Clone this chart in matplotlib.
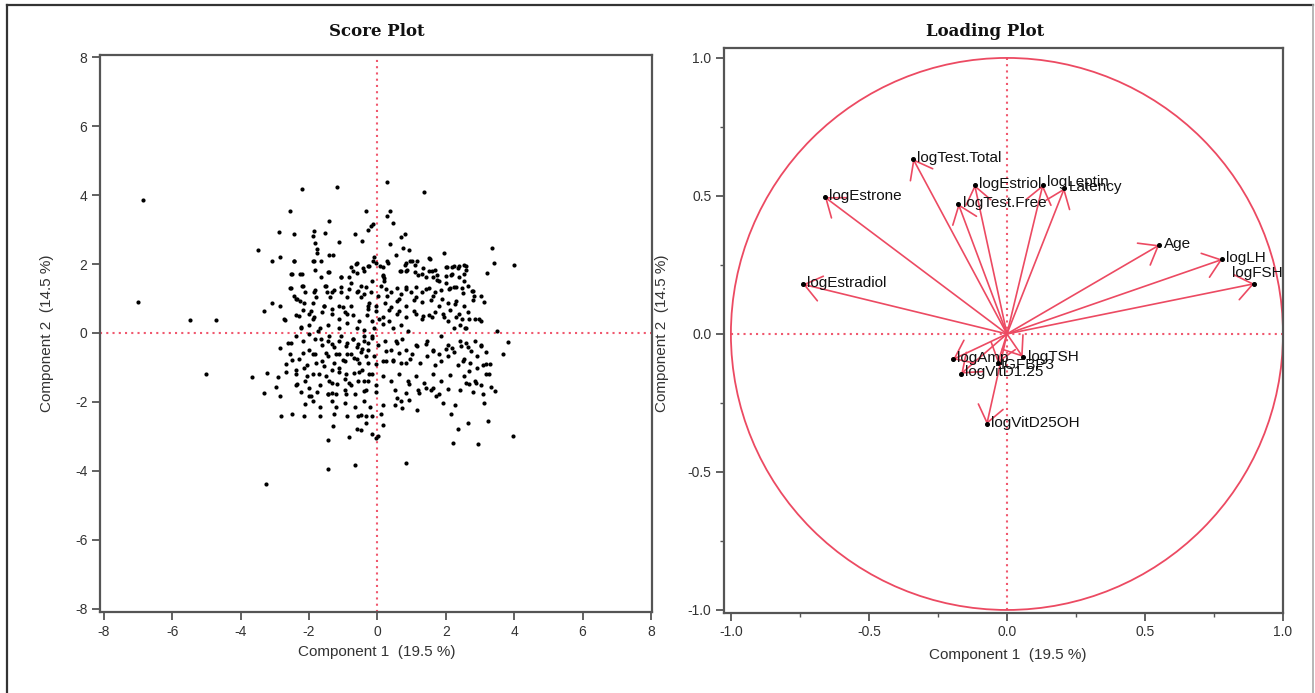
import matplotlib
matplotlib.use("Agg")
import matplotlib.pyplot as plt
from matplotlib.patches import Circle
from matplotlib.lines import Line2D
from matplotlib.ticker import MultipleLocator, FormatStrFormatter

# ---------------- data ----------------
titles = ["Score Plot", "Loading Plot"]
xlabel_txt = "Component 1  (19.5 %)"
ylabel_txt = "Component 2  (14.5 %)"
score_ticks = [-8, -6, -4, -2, 0, 2, 4, 6, 8]
loading_ticks = [-1.0, -0.5, 0.0, 0.5, 1.0]

# score points, read region by region
out_pc1 = [-6.85, -7.0, -5.47, -4.72, -5.02, -3.68, -3.25, -1.45, -0.67, 0.82, 3.95, 3.99, 1.35, 0.28, -1.19,
           -2.21, 3.35, 3.42, 2.93, 2.2, -1.45, -2.55, -3.5, -3.31, -3.33]
out_pc2 = [3.85, 0.9, 0.38, 0.38, -1.2, -1.27, -4.38, -3.95, -3.83, -3.76, -2.99, 1.97, 4.08, 4.38, 4.22,
           4.18, 2.45, 2.04, -3.23, -3.19, -3.09, 3.55, 2.42, 0.64, -1.74]

top_pc1 = [-0.33, 0.37, 0.27, 0.45, -0.2, -0.12, -1.42, -2.87, -2.45, -1.85, -1.53, -1.9, -0.44, -1.12, -0.66,
           0.8, 0.7, -1.82, -1.78, -1.76, -1.31, 0.37, 0.76, 0.92, 0.53, -0.11, -0.13, -0.28]
top_pc2 = [3.53, 3.53, 3.38, 3.19, 3.09, 3.17, 3.24, 2.94, 2.86, 2.95, 2.91, 2.81, 2.68, 2.65, 2.86,
           2.88, 2.78, 2.6, 2.44, 2.33, 2.27, 2.58, 2.46, 2.4, 2.27, 2.2, 2.08, 3.0]

upper_pc1 = [-3.09, -2.85, -2.45, -1.9, -1.41, -2.54, -2.27, -1.84, -1.44, -1.08, -0.63, -0.43, -0.71, -0.82,
             -0.28, 0.06, 0.15, 0.18, 0.09, 0.28, 0.8, 0.94, 1.1, 0.86, 0.67, 1.5, 1.96, 1.34, 1.58, 1.74,
             2.02, 2.23, 2.53, 2.36, 2.15, 2.53, 1.19, 1.42, 1.73]
upper_pc2 = [2.08, 2.2, 2.08, 2.1, 2.27, 1.72, 1.72, 1.82, 1.78, 1.63, 2.01, 1.88, 1.79, 1.63,
             1.95, 1.95, 1.69, 1.59, 1.37, 2.08, 1.97, 2.08, 1.97, 1.82, 1.79, 2.17, 2.31, 1.88, 1.79, 1.69,
             1.92, 1.95, 1.97, 1.88, 1.69, 1.72, 1.69, 1.63, 1.54]

upper2_pc1 = [-2.44, -1.87, -1.66, -0.6, -0.24, -0.05, 0.15, 0.32, 0.83, 1.02, 1.17, 1.53, 2.0, 2.19, 2.39,
              2.58, 2.6, 3.2, -2.51, -2.21, -1.66, -1.41, -1.07, -0.78, -0.6, -0.39, -0.15, 0.15, 0.19, 0.24,
              0.68, 0.83, 1.1, 1.3, 1.51, 1.68, 1.61, 1.8, 2.0, 2.19, 2.39, 2.53]
upper2_pc2 = [2.09, 2.09, 2.09, 2.04, 1.95, 2.04, 1.9, 2.04, 2.04, 2.09, 2.09, 2.14, 1.9, 1.9, 1.93,
              1.95, 1.82, 1.75, 1.72, 1.72, 1.63, 1.78, 1.61, 1.9, 1.75, 1.8, 1.51, 1.66, 1.51, 1.27,
              1.8, 1.8, 1.77, 1.72, 1.8, 1.83, 1.61, 1.51, 1.66, 1.7, 1.63, 1.51]

mid_pc1 = [-2.56, -2.21, -2.45, -2.39, -2.28, -2.12, -1.82, -1.79, -1.53, -1.48, -1.26, -1.08, -1.88, -1.57,
           -1.39, -1.14, -0.77, -0.9, -0.59, -0.77, -0.47, -0.4, -0.18, 0.02, -0.28, -0.04, 0.21, 0.39, 0.58,
           0.7, 0.82, 0.97, 1.13, 1.31, 1.5, 1.68, 1.87, 1.99, 2.11, 2.3, 2.48, 2.66, 2.76, 3.03, 3.13,
           2.79, 2.53, 2.3, 2.05, 1.8, 1.56, 1.31, 1.07, 0.82, 0.58, 0.33, 0.58, 0.82, 1.13, 1.31,
           1.5, 1.68, 1.93, 2.11, 2.3, 2.48, 2.66, 2.85, 3.03, 2.23, 2.42, 2.6, 2.05]
mid_pc2 = [1.31, 1.37, 1.08, 0.99, 0.92, 1.18, 1.24, 1.03, 1.37, 1.18, 1.24, 1.18, 0.86, 0.79,
           1.05, 0.79, 0.79, 1.05, 1.18, 1.44, 1.37, 1.12, 1.18, 1.08, 0.79, 0.79, 0.86, 1.18, 1.31,
           1.12, 1.33, 1.18, 1.33, 1.18, 1.31, 1.18, 1.24, 1.44, 1.31, 1.33, 1.31, 1.37, 1.21, 1.08, 0.9,
           0.95, 0.79, 0.92, 0.86, 0.79, 0.95, 0.9, 0.95, 0.79, 0.92, 0.67, 0.54, 0.47, 0.54, 0.41,
           0.51, 0.6, 0.54, 0.67, 0.47, 0.41, 0.6, 0.41, 0.35, 0.15, 0.22, 0.15, 0.35]

mid2_pc1 = [-2.54, -2.19, -2.34, -2.14, -1.85, -1.51, -1.32, -1.07, -0.83, -0.58, -0.34, -0.49, -0.24, 0.29,
            0.63, 0.83, 1.12, 1.41, 1.61, 1.9, 2.1, 2.24, 2.49, 2.78, 2.83, -2.7, -2.31, -1.95, -1.85,
            -1.56, -1.32, -1.02, -0.88, -0.29, -0.03, 0.05, 0.39, 0.63, 1.07, 1.32, 1.59, 1.95, 2.27, 2.39,
            2.68, 2.97, 2.55]
mid2_pc2 = [1.3, 1.37, 0.98, 0.88, 1.2, 1.37, 1.2, 1.32, 1.27, 1.22, 1.32, 1.03, 0.88, 1.08,
            0.98, 1.27, 1.03, 1.27, 1.08, 0.98, 1.27, 1.32, 1.17, 1.22, 1.08, 0.37, 0.49, 0.64, 0.45,
            0.78, 0.69, 0.74, 0.54, 0.69, 0.64, 0.4, 0.74, 0.64, 0.64, 0.49, 0.45, 0.45, 0.83, 0.54,
            0.4, 0.4, 0.15]

left_pc1 = [-3.1, -2.85, -2.74, -2.37, -2.18, -2.0, -1.88, -1.63, -1.33, -1.14, -0.96, -0.71, -0.53, -0.31,
            -0.16, 0.15, 0.15, 0.33, -2.25, -2.0, -1.69, -1.45, -1.14, -0.9, -0.59, -0.4, -0.1, 0.45, 0.7,
            0.88]
left_pc2 = [0.86, 0.79, 0.41, 0.51, 0.67, 0.54, 0.41, 0.6, 0.54, 0.41, 0.6, 0.51, 0.35, 0.51,
            0.35, 0.47, 0.26, 0.35, 0.18, 0.22, 0.15, 0.22, 0.13, 0.28, 0.15, 0.09, 0.15, 0.13, 0.22,
            0.05]

low_pc1 = [-2.61, -2.37, -2.18, -2.0, -1.82, -1.63, -1.45, -1.26, -1.08, -0.9, -0.71, -0.59, -0.4, -0.28,
           -0.16, 0.02, 0.21, 0.39, 0.58, 0.82, 1.13, 1.44, 1.62, 1.87, 2.05, 2.23, 2.42, 2.66, 2.85, 3.03,
           3.16, 3.5, 3.83, 3.67, -2.55, -2.31, -2.06, -1.82, -1.63, -1.45, -1.26, -1.14, -0.96, -0.77,
           -0.59, -0.47, -0.28, -0.1, 0.15, 0.45, 0.7, 0.94, 1.25, 1.44, 1.68, 1.87, 2.05, 2.36, 2.53,
           2.72, 2.9, 3.09, 3.28, 3.16]
low_pc2 = [-0.29, -0.1, -0.23, -0.49, -0.17, -0.36, -0.23, -0.42, -0.1, -0.29, -0.17, -0.42, -0.23, -0.49,
           -0.1, -0.36, -0.23, -0.49, -0.29, -0.49, -0.36, -0.23, -0.49, -0.1, -0.36, -0.55, -0.23, -0.42,
           -0.23, -0.36, -0.55, 0.05, -0.27, -0.62, -0.62, -0.74, -0.94, -0.62, -0.81, -0.68, -0.87, -0.62,
           -0.81, -0.62, -0.74, -0.55, -0.87, -0.68, -0.81, -0.81, -0.87, -0.74, -0.87, -0.68, -0.94, -0.81,
           -0.68, -0.94, -0.74, -0.87, -0.68, -0.94, -0.9, -1.19]

core_pc1 = [-2.24, -2.0, -1.75, -1.66, -1.41, -1.32, -1.12, -0.93, -0.73, -0.58, -0.44, -0.29, -0.15, -0.39,
            -1.51, -1.22, -1.02, -0.88, -0.68, -0.54, -0.34, -1.9, -1.8, -1.56, -1.32, -1.12, -0.93, -0.68,
            -0.44, -0.24, -0.05, -2.14, -2.05, -1.7, -1.41, -1.17, -0.83, -0.58, -0.29, -1.32, -1.46, -2.0,
            -1.95, -0.93, -0.39, 0.24, 0.44, 0.63, 0.83, 1.02, 0.24, 0.54, 0.73, 1.17, 1.41, 1.61, 1.8,
            2.0, 2.19, 2.44, 2.58, 2.73, 3.02, 2.49, 2.68, 2.92, 3.17, 3.27, 2.87, 2.68, 1.61, 1.41, 1.71,
            1.22, 0.93, 0.58, 0.93, 0.73, -0.58, -0.34, -3.22, -2.34, -2.68, -2.49, -2.39, -2.85, -2.54,
            -2.19]
core_pc2 = [0.14, -0.02, 0.06, -0.18, -0.09, -0.33, -0.23, -0.38, -0.18, -0.33, -0.47, -0.28, -0.14, -0.09,
            -0.57, -0.62, -0.77, -0.62, -0.72, -0.86, -0.67, -0.62, -0.86, -0.96, -1.06, -1.01, -1.2, -1.15,
            -1.06, -1.2, -0.91, -1.01, -1.25, -1.2, -1.4, -1.49, -1.44, -1.4, -1.4, -1.74, -1.78, -1.59,
            -1.83, -1.78, -1.69, -0.52, -0.77, -0.57, -0.86, -0.62, -0.81, -0.23, -0.18, -0.38, -0.33, -0.52,
            -0.62, -0.47, -0.43, -0.38, -0.28, -0.52, -0.38, -0.81, -1.1, -1.01, -0.91, -1.2, -1.44, -1.49,
            -1.59, -1.59, -1.83, -1.74, -1.49, -1.88, -1.93, -2.17, -2.41, -2.41, -1.15, -1.47, -0.89, -0.77,
            -1.08, -0.43, -0.28, -0.57]

lower_pc1 = [-2.92, -2.67, -2.37, -2.12, -1.88, -1.69, -1.51, -1.33, -1.14, -0.96, -0.77, -0.53, -0.4, -0.16,
             -0.04, 0.15, 0.39, 0.64, 0.88, 1.13, 1.37, 1.62, 1.87, 2.11, 2.53, 2.6, 2.85, 3.03, 3.33, 3.45,
             3.09, 2.79, 2.42, 2.05, 1.8, 1.56, 1.19, 0.82, 0.52, -0.04, -0.34, -0.65, -0.96, -1.2, -1.45,
             -1.76, -2.0, -2.25, -2.98, -2.85, -2.37]
lower_pc2 = [-1.27, -1.13, -1.19, -1.38, -1.19, -1.51, -1.26, -1.45, -1.13, -1.32, -1.51, -1.13, -1.38, -1.19,
             -1.51, -1.26, -1.38, -1.19, -1.38, -1.26, -1.45, -1.19, -1.38, -1.23, -1.26, -1.45, -1.38, -1.51,
             -1.58, -1.67, -1.77, -1.71, -1.64, -1.62, -1.77, -1.64, -1.64, -1.74, -1.64, -1.71, -1.64, -1.77,
             -1.64, -1.77, -1.77, -1.71, -1.83, -1.71, -1.58, -1.83, -1.51]

bottom_pc1 = [-2.12, -1.88, -1.69, -1.33, -1.2, -0.96, -0.65, -0.4, -0.22, 0.15, 0.52, 0.7, 1.17, 1.93, 2.27,
              3.13, -2.83, -2.49, -2.16, -1.69, -1.26, -0.9, -0.47, -0.16, 0.09, 2.15, 3.22, -1.29, -0.59,
              -0.47, -0.34, 0.15, 2.36, 2.66, -0.83, -0.16, -0.04, 0.02]
bottom_pc2 = [-2.05, -1.96, -2.15, -1.96, -2.15, -2.03, -2.15, -1.96, -2.15, -2.09, -2.09, -1.96, -2.22, -2.03,
              -2.09, -2.03, -2.41, -2.35, -2.41, -2.41, -2.35, -2.41, -2.38, -2.41, -2.35, -2.35, -2.54, -2.69,
              -2.79, -2.82, -2.6, -2.67, -2.77, -2.6, -3.03, -2.92, -3.05, -2.99]

score_groups = [(out_pc1, out_pc2), (top_pc1, top_pc2), (upper_pc1, upper_pc2), (upper2_pc1, upper2_pc2),
                (mid_pc1, mid_pc2), (mid2_pc1, mid2_pc2), (left_pc1, left_pc2), (low_pc1, low_pc2),
                (core_pc1, core_pc2), (lower_pc1, lower_pc2), (bottom_pc1, bottom_pc2)]
score_pc1, score_pc2 = [], []
for gx, gy in score_groups:
    n = min(len(gx), len(gy))
    score_pc1 += gx[:n]
    score_pc2 += gy[:n]

# loading vectors
load_names = ["logTest.Total", "logEstrone", "logEstriol", "logTest.Free", "logLeptin", "Latency",
              "Age", "logLH", "logFSH", "logEstradiol", "logAmp", "logVitD1.25", "logVitD25OH",
              "logTSH", "IGFBP3"]
load_pc1 = [-0.34, -0.66, -0.117, -0.176, 0.13, 0.208, 0.552, 0.78, 0.896, -0.739, -0.195, -0.166,
            -0.073, 0.057, -0.033]
load_pc2 = [0.634, 0.496, 0.54, 0.471, 0.54, 0.528, 0.322, 0.27, 0.182, 0.18, -0.092, -0.144,
            -0.327, -0.083, -0.105]
# label offsets (points) - style only
label_off = {"logFSH": (-16, 8), "logLeptin": (3, 2), "IGFBP3": (2, -1.5), "logTSH": (3.5, 0)}

# ---------------- style ----------------
plt.rcParams['font.family'] = ['Liberation Sans', 'DejaVu Sans']
plt.rcParams['axes.unicode_minus'] = False
RED = '#ec4a62'
DOT = '#f0586e'
SPINE = '#555555'

W, H = 1315, 693
fig = plt.figure(figsize=(W / 100, H / 100), dpi=100)


def box(l, t, r, b):
    return [l / W, 1 - b / H, (r - l) / W, (b - t) / H]


def fx(px):
    return px / W


def fy(py):
    return 1 - py / H


def style_axes(ax):
    for s in ax.spines.values():
        s.set_color(SPINE)
        s.set_linewidth(1.6)
    ax.tick_params(which='major', direction='out', length=6, width=1.3, color=SPINE,
                   labelsize=10, labelcolor='#333333', pad=3)
    ax.tick_params(which='minor', direction='out', length=3, width=1.0, color=SPINE)


# ---- score plot ----
ax1 = fig.add_axes(box(100, 55, 652, 612))
ax1.set_xlim(-8.117, 8.03)
ax1.set_ylim(-8.09, 8.06)
ax1.set_xticks(score_ticks)
ax1.set_yticks(score_ticks)
ax1.set_xticklabels([str(t) for t in score_ticks])
ax1.set_yticklabels([str(t) for t in score_ticks])
style_axes(ax1)
ax1.axhline(0, color=DOT, lw=1.5, ls=(0, (1, 2)), zorder=1)
ax1.axvline(0, color=DOT, lw=1.5, ls=(0, (1, 2)), zorder=1)
ax1.scatter(score_pc1, score_pc2, s=9, c='black', marker='o', linewidths=0, zorder=3)

# ---- loading plot ----
ax2 = fig.add_axes(box(724, 48, 1283, 613))
ax2.set_xlim(-1.025, 1.0)
ax2.set_ylim(-1.011, 1.036)
ax2.set_xticks(loading_ticks)
ax2.set_yticks(loading_ticks)
ax2.xaxis.set_minor_locator(MultipleLocator(0.25))
ax2.yaxis.set_minor_locator(MultipleLocator(0.25))
ax2.xaxis.set_major_formatter(FormatStrFormatter('%.1f'))
ax2.yaxis.set_major_formatter(FormatStrFormatter('%.1f'))
style_axes(ax2)
ax2.plot([-1, 1], [0, 0], color=DOT, lw=1.5, ls=(0, (1, 2)), zorder=1)
ax2.plot([0, 0], [-1, 1], color=DOT, lw=1.5, ls=(0, (1, 2)), zorder=1)
ax2.add_patch(Circle((0, 0), 1.0, fill=False, ec=RED, lw=1.3, zorder=2))
for name, x, y in zip(load_names, load_pc1, load_pc2):
    ax2.annotate('', xy=(x, y), xytext=(0, 0),
                 arrowprops=dict(arrowstyle='->,head_length=0.85,head_width=0.65',
                                 color=RED, lw=1.2, shrinkA=0, shrinkB=0, mutation_scale=14),
                 zorder=3)
    ax2.plot([x], [y], 'o', ms=2.6, color='black', zorder=4)
    off = label_off.get(name, (3, 1))
    ax2.annotate(name, xy=(x, y), xytext=off, textcoords='offset points',
                 ha='left', va='center', fontsize=11, color='#111111', zorder=5)

# ---- texts ----
fig.text(fx(377), fy(32), titles[0], ha='center', va='center', fontsize=12,
         fontweight='bold', family='DejaVu Serif', color='#111111')
fig.text(fx(985), fy(32), titles[1], ha='center', va='center', fontsize=12,
         fontweight='bold', family='DejaVu Serif', color='#111111')
fig.text(fx(377), fy(652), xlabel_txt, ha='center', va='center', fontsize=11, color='#333333')
fig.text(fx(1008), fy(655), xlabel_txt, ha='center', va='center', fontsize=11, color='#333333')
fig.text(fx(47), fy(333), ylabel_txt, ha='center', va='center', rotation=90, fontsize=11, color='#333333')
fig.text(fx(662), fy(333), ylabel_txt, ha='center', va='center', rotation=90, fontsize=11, color='#333333')

# ---- outer frame ----
fig.add_artist(Line2D([fx(7), fx(7)], [fy(5), fy(700)], color='#333333', lw=1.6))
fig.add_artist(Line2D([fx(7), fx(1313)], [fy(5), fy(5)], color='#333333', lw=1.6))
fig.add_artist(Line2D([fx(1313), fx(1313)], [fy(5), fy(700)], color='#aaaaaa', lw=1.2))

fig.savefig('out.png', dpi=100)
